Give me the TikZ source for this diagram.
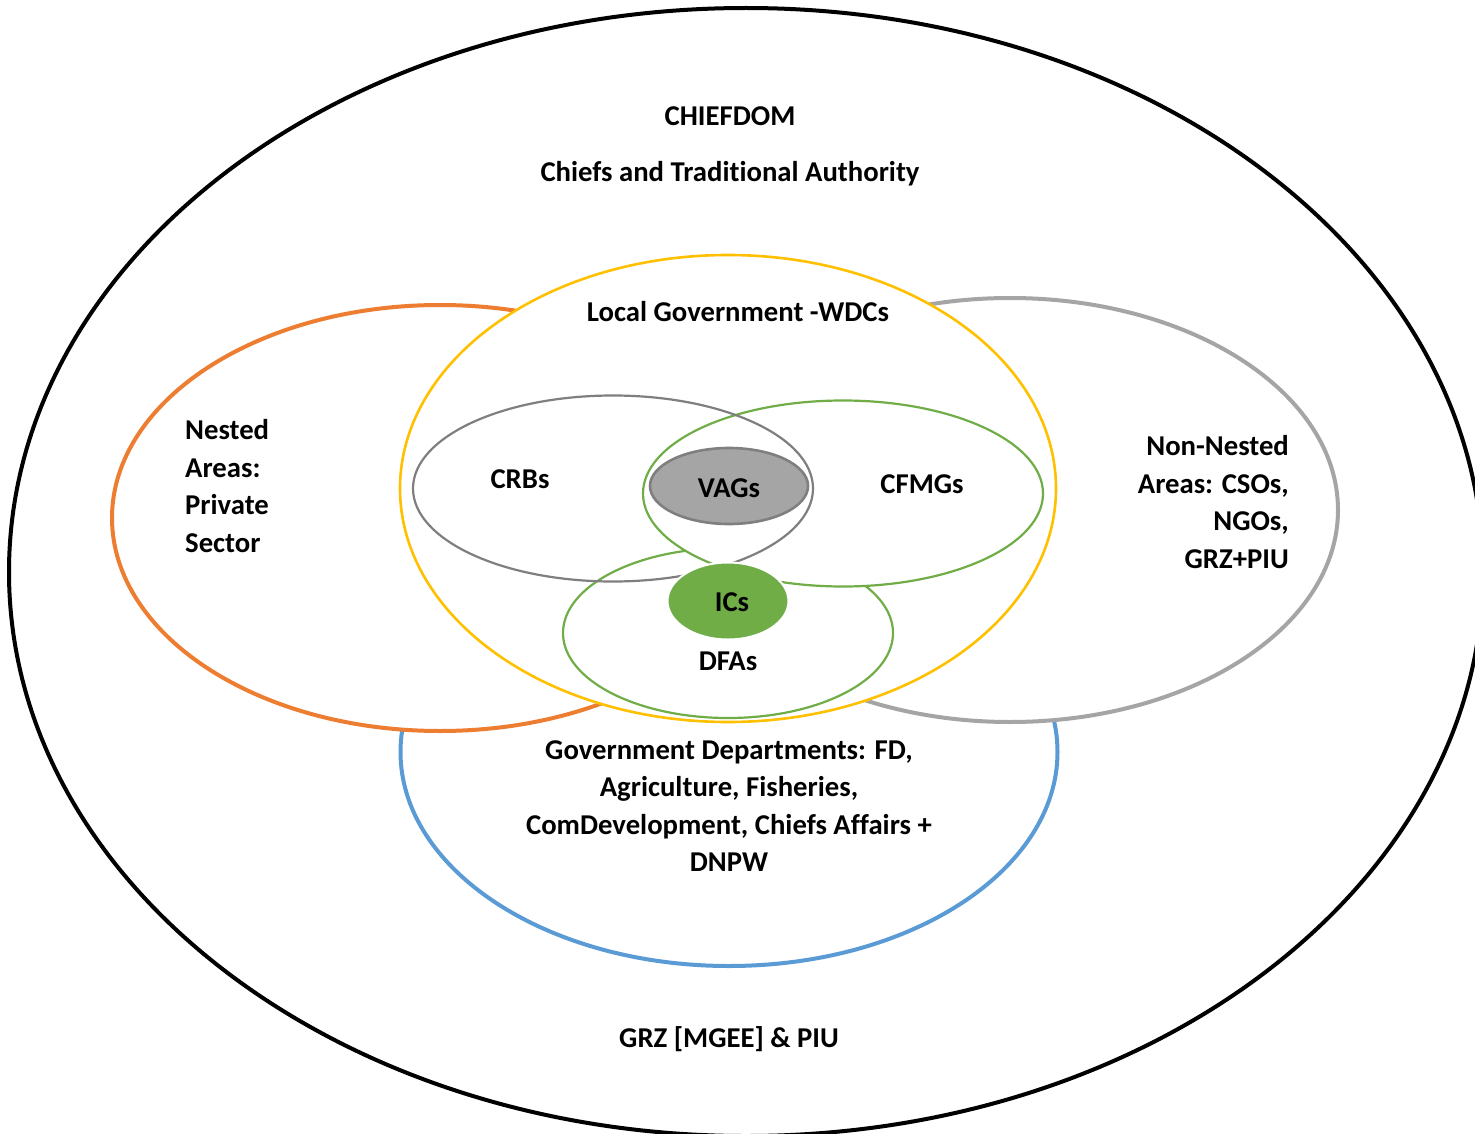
\documentclass[tikz,border=0pt]{standalone}
\usepackage{fontspec}
\setmainfont{Carlito}[Ligatures=NoCommon, RawFeature={-liga;-clig;-calt}]
\usetikzlibrary{shapes.geometric}
\definecolor{ringblack}{HTML}{000000}
\definecolor{ringorange}{HTML}{ED7D31}
\definecolor{ringgray}{HTML}{A5A5A5}
\definecolor{ringblue}{HTML}{5B9BD5}
\definecolor{ringyellow}{HTML}{FFC000}
\definecolor{ringgreen}{HTML}{70AD47}
\definecolor{darkgray}{HTML}{7F7F7F}
\tikzset{
  ring/.style={ellipse, inner sep=0pt, outer sep=0pt},
  thickring/.style={ring, line width=4pt},
  thinring/.style={ring, line width=2.2pt},
  lbl/.style={font=\bfseries\fontsize{28.7}{37.5}\selectfont, inner sep=0pt, text=black},
}
\begin{document}
\begin{tikzpicture}[x=1pt, y=-1pt]
  \useasboundingbox (0,0) rectangle (1475,1134);
  \clip (0,0) rectangle (1475,1134);
  \fill[white] (0,0) rectangle (1475,1134);

  % outer chiefdom boundary
  \node[thickring, draw=ringblack, minimum width=1474pt, minimum height=1128pt] (chiefdom) at (746,572) {};

  % government departments (lowest of the coloured rings)
  \node[thickring, draw=ringblue, fill=white, minimum width=657pt, minimum height=428pt] (govdep) at (729,752) {};
  % nested and non-nested areas
  \node[thickring, draw=ringorange, fill=white, minimum width=656pt, minimum height=426pt] (nested) at (440,518) {};
  \node[thickring, draw=ringgray, fill=white, minimum width=656pt, minimum height=424pt] (nonnested) at (1010,510) {};
  % local government
  \node[ring, line width=2.6pt, draw=ringyellow, fill=white, minimum width=656pt, minimum height=467pt] (localgov) at (728,488.5) {};

  % inner groups
  \node[thinring, draw=ringgreen, minimum width=330pt, minimum height=170pt] (dfa) at (728,633) {};
  \node[thinring, draw=ringgreen, fill=white, minimum width=400pt, minimum height=186pt] (cfmg) at (843,493.5) {};
  \node[thinring, draw=darkgray, minimum width=400pt, minimum height=186pt] (crb) at (613,488.5) {};
  \node[ring, line width=2.6pt, draw=darkgray, fill=ringgray, minimum width=158pt, minimum height=76pt] (vag) at (729,486) {};
  \node[ring, line width=2pt, draw=white, fill=ringgreen, minimum width=121pt, minimum height=77pt] (ic) at (728,601) {};

  % labels
  \node[lbl] (tchief) at (730,116) {CHIEFDOM};
  \node[lbl] (tauth) at (730,174) {Chiefs and Traditional Authority};
  \node[lbl] (tlocal) at (738,312) {Local Government -WDCs};
  \node[lbl, align=left, anchor=west] (tnested) at (185,486) {Nested\\Areas:\\Private\\Sector};
  \node[lbl, align=right, anchor=east] (tnon) at (1289,502) {Non-Nested\\Areas: CSOs,\\NGOs,\\GRZ+PIU};
  \node[lbl] (tcrb) at (520,479) {CRBs};
  \node[lbl] (tvag) at (729,488) {VAGs};
  \node[lbl] (tcfmg) at (922,484) {CFMGs};
  \node[lbl] (tic) at (732,602) {ICs};
  \node[lbl] (tdfa) at (728,661) {DFAs};
  \node[lbl, align=center] (tgov) at (729,806) {Government Departments: FD,\\Agriculture, Fisheries,\\ComDevelopment, Chiefs Affairs +\\DNPW};
  \node[lbl] (tgrz) at (729,1039) {GRZ [MGEE] \& PIU};
\end{tikzpicture}
\end{document}
